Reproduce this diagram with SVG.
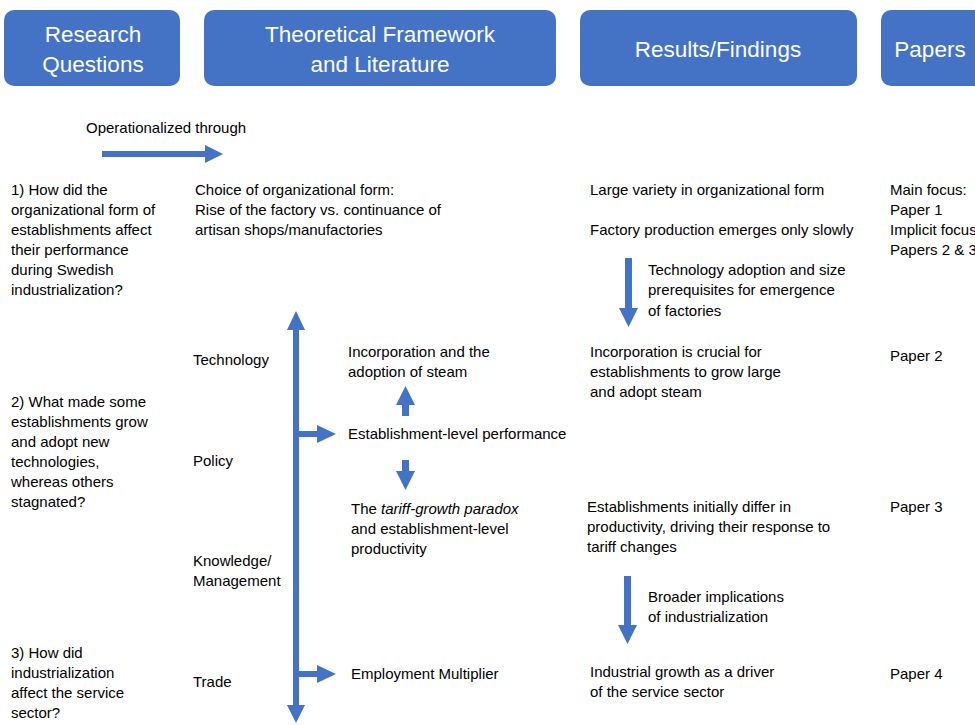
<svg xmlns="http://www.w3.org/2000/svg" width="975" height="725" viewBox="0 0 975 725">
<style>
.hdr{fill:#4472C4;}
.ht{font-family:"Liberation Sans",Arial,sans-serif;font-size:22.5px;fill:#fff;text-anchor:middle;}
.t{font-family:"Liberation Sans",Arial,sans-serif;font-size:15px;fill:#000;}
.ar{fill:#4472C4;}
</style>
<rect width="975" height="725" fill="#fff"/>
<g id="hdr-rq"><rect class="hdr" x="4" y="10" width="176" height="76" rx="10"/><text class="ht" x="93" y="42">Research</text><text class="ht" x="93" y="72">Questions</text></g>
<g id="hdr-tf"><rect class="hdr" x="204" y="10" width="352" height="76" rx="10"/><text class="ht" x="380" y="42">Theoretical Framework</text><text class="ht" x="380" y="72">and Literature</text></g>
<g id="hdr-rf"><rect class="hdr" x="580" y="10" width="277" height="76" rx="10"/><text class="ht" x="718" y="57">Results/Findings</text></g>
<g id="hdr-p"><rect class="hdr" x="881" y="10" width="110" height="76" rx="10"/><text class="ht" x="930" y="57">Papers</text></g>

<g id="op"><text class="t" x="86" y="133">Operationalized through</text></g>

<g id="connectors">
<polygon class="ar" points="102,151 205,151 205,145 223,154 205,163 205,157 102,157"/>
<polygon class="ar" points="293,330 293,705 287,705 296,723 305,705 299,705 299,330 305,330 296,311 287,330"/>
<polygon class="ar" points="299,431 317,431 317,425 336,434 317,443 317,437 299,437"/>
<polygon class="ar" points="299,671 317,671 317,665 336,674 317,683 317,677 299,677"/>
<polygon class="ar" points="402,416 402,405 396,405 405.5,386 415,405 409,405 409,416"/>
<polygon class="ar" points="402,460 402,471 396,471 405.5,490 415,471 409,471 409,460"/>
<polygon class="ar" points="625,258 625,308 619,308 628.5,327 638,308 632,308 632,258"/>
<polygon class="ar" points="624,576 624,625 618,625 627.5,644 637,625 631,625 631,576"/>
</g>

<g id="rq1"><text class="t" x="11" y="195">1) How did the</text><text class="t" x="11" y="215">organizational form of</text><text class="t" x="11" y="235">establishments affect</text><text class="t" x="11" y="255">their performance</text><text class="t" x="11" y="275">during Swedish</text><text class="t" x="11" y="295">industrialization?</text></g>
<g id="rq2"><text class="t" x="11" y="407">2) What made some</text><text class="t" x="11" y="427">establishments grow</text><text class="t" x="11" y="447">and adopt new</text><text class="t" x="11" y="467">technologies,</text><text class="t" x="11" y="487">whereas others</text><text class="t" x="11" y="507">stagnated?</text></g>
<g id="rq3"><text class="t" x="11" y="658">3) How did</text><text class="t" x="11" y="678">industrialization</text><text class="t" x="11" y="698">affect the service</text><text class="t" x="11" y="718">sector?</text></g>

<g id="tf-choice"><text class="t" x="195" y="195">Choice of organizational form:</text><text class="t" x="195" y="215">Rise of the factory vs. continuance of</text><text class="t" x="195" y="235">artisan shops/manufactories</text></g>
<g id="tf-tech"><text class="t" x="193" y="365">Technology</text></g>
<g id="tf-policy"><text class="t" x="193" y="466">Policy</text></g>
<g id="tf-know"><text class="t" x="193" y="566">Knowledge/</text><text class="t" x="193" y="586">Management</text></g>
<g id="tf-trade"><text class="t" x="193" y="687">Trade</text></g>

<g id="tf-inc"><text class="t" x="348" y="357">Incorporation and the</text><text class="t" x="348" y="377">adoption of steam</text></g>
<g id="tf-perf"><text class="t" x="348" y="439">Establishment-level performance</text></g>
<g id="tf-tariff"><text class="t" x="351" y="514">The <tspan font-style="italic">tariff-growth paradox</tspan></text><text class="t" x="351" y="534">and establishment-level</text><text class="t" x="351" y="554">productivity</text></g>
<g id="tf-emp"><text class="t" x="351" y="679">Employment Multiplier</text></g>

<g id="rf-1"><text class="t" x="590" y="195">Large variety in organizational form</text><text class="t" x="590" y="235">Factory production emerges only slowly</text></g>
<g id="rf-tech"><text class="t" x="648" y="275">Technology adoption and size</text><text class="t" x="648" y="295">prerequisites for emergence</text><text class="t" x="648" y="316">of factories</text></g>
<g id="rf-inc"><text class="t" x="590" y="357">Incorporation is crucial for</text><text class="t" x="590" y="377">establishments to grow large</text><text class="t" x="590" y="397">and adopt steam</text></g>
<g id="rf-est"><text class="t" x="587" y="512">Establishments initially differ in</text><text class="t" x="587" y="532">productivity, driving their response to</text><text class="t" x="587" y="552">tariff changes</text></g>
<g id="rf-broad"><text class="t" x="648" y="602">Broader implications</text><text class="t" x="648" y="622">of industrialization</text></g>
<g id="rf-ind"><text class="t" x="590" y="677">Industrial growth as a driver</text><text class="t" x="590" y="697">of the service sector</text></g>

<g id="p-1"><text class="t" x="890" y="195">Main focus:</text><text class="t" x="890" y="215">Paper 1</text><text class="t" x="890" y="235">Implicit focus</text><text class="t" x="890" y="255">Papers 2 &amp; 3</text></g>
<g id="p-2"><text class="t" x="890" y="361">Paper 2</text></g>
<g id="p-3"><text class="t" x="890" y="512">Paper 3</text></g>
<g id="p-4"><text class="t" x="890" y="679">Paper 4</text></g>
</svg>
